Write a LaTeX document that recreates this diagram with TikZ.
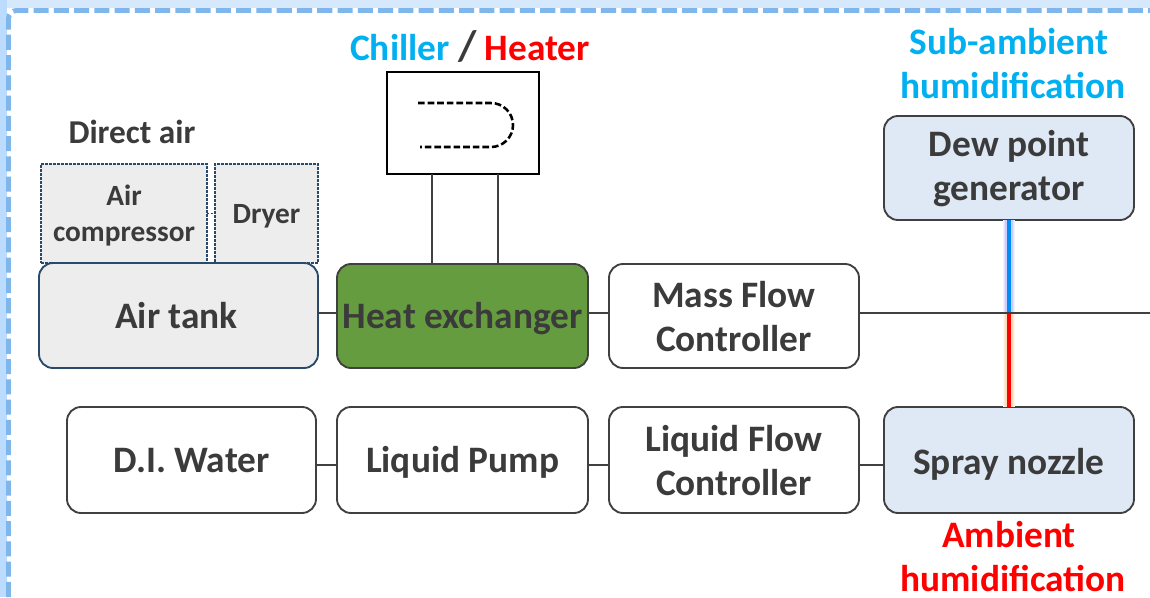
\documentclass[tikz,border=0pt]{standalone}
\usepackage{fontspec}
\setmainfont{Carlito}
\definecolor{txt}{HTML}{3B3B3B}
\definecolor{edge}{HTML}{404040}
\definecolor{navy}{HTML}{2A4A6B}
\definecolor{grayfill}{HTML}{EDEDED}
\definecolor{bluefill}{HTML}{DEE9F5}
\definecolor{greenfill}{HTML}{659C3F}
\definecolor{cyanT}{HTML}{00B0F0}
\definecolor{frame}{HTML}{7FB6EC}
\definecolor{bandtop}{HTML}{D6E9FC}
\definecolor{bandleft}{HTML}{BBDCFF}
\newcommand{\bl}[2]{\raisebox{-#1}[0pt][0pt]{#2}}
\tikzset{
 x=0.75pt,y=-0.75pt,
 sz/.style 2 args={minimum width=#1*0.75pt,minimum height=#2*0.75pt},
 box/.style={draw=edge,line width=1.4pt,rounded corners=10.5pt,text=txt,align=center,inner sep=0pt,outer sep=0pt,anchor=north west,font=\fontsize{28}{33}\selectfont\bfseries},
 dotbox/.style={draw=navy,line width=0.85pt,dash pattern=on 2pt off 1pt,fill=grayfill,text=txt,align=center,inner sep=0pt,outer sep=0pt,anchor=north west,font=\fontsize{22}{26.3}\selectfont\bfseries},
 conn/.style={draw=edge,line width=2pt},
 lab/.style={inner sep=0pt,align=center,font=\fontsize{28}{33}\selectfont\bfseries},
}
\begin{document}
\begin{tikzpicture}
\useasboundingbox (0,0) rectangle (1150,597);
\fill[white] (0,0) rectangle (1150,597);
\fill[bandtop] (0,0) rectangle (1150,8);
\fill[bandleft] (0,0) rectangle (7,597);
\draw[frame,line width=3.7pt,dash pattern=on 11.3pt off 3.9pt,rounded corners=6pt] (8.5,597) -- (8.5,10.5) -- (1150,10.5);

% nodes
\node[dotbox,sz={166}{99}] (comp) at (41,164) {\rule{0pt}{18.5pt}Air\\compressor};
\node[dotbox,sz={103}{99}] (dryer) at (215,164) {\bl{7.4pt}{Dryer}};
\node[box,draw=navy,fill=grayfill,sz={279}{105}] (tank) at (39,263) {\hspace*{-3pt}\bl{9.4pt}{Air tank}};
\node[box,fill=greenfill,sz={251}{104}] (hx) at (337,264) {\bl{9.2pt}{Heat exchanger}};
\node[box,fill=white,sz={250}{104}] (mfc) at (609,264) {\rule{0pt}{21pt}Mass Flow\\Controller};
\node[box,fill=bluefill,sz={250}{104}] (dew) at (884,116) {\rule{0pt}{21pt}Dew point\\generator};
\node[box,fill=white,sz={249}{106}] (di) at (67,407) {\bl{9.6pt}{D.I. Water}};
\node[box,fill=white,sz={251}{106}] (pump) at (337,407) {\bl{9.6pt}{Liquid Pump}};
\node[box,fill=white,sz={250}{106}] (lfc) at (609,407) {\rule{0pt}{21pt}Liquid Flow\\Controller};
\node[box,fill=bluefill,sz={250}{106}] (spray) at (884,407) {\bl{10.6pt}{Spray nozzle}};
\node[draw=black,line width=2.1pt,fill=white,inner sep=0pt,outer sep=0pt,anchor=north west,sz={152}{102}] (chiller) at (387,72) {};

% free ends / junctions
\coordinate (out) at (1150,313);
\coordinate (junc) at (1009,313);
\coordinate (coilA) at (418,103);
\coordinate (coilB) at (420,147);
\coordinate (hxA) at (432,264);
\coordinate (hxB) at (498,264);

% connectors
\draw[conn] (tank.east |- out) -- (hx.west |- out);
\draw[conn] (hx.east |- out) -- (mfc.west |- out);
\coordinate (wl) at (0,465);
\draw[conn] (di.east |- wl) -- (pump.west |- wl);
\draw[conn] (pump.east |- wl) -- (lfc.west |- wl);
\draw[conn] (lfc.east |- wl) -- (spray.west |- wl);
\draw[conn] (chiller.south -| hxA) -- (hxA);
\draw[conn] (chiller.south -| hxB) -- (hxB);
\draw[navy,line width=0.75pt,dash pattern=on 1.5pt off 1.5pt] (comp.east) -- (dryer.west);

% humidification lines with glow
\draw[line width=9.5pt,color=blue!5] (dew.south -| junc) -- (junc);
\draw[line width=8pt,color=blue!11] (dew.south -| junc) -- (junc);
\draw[line width=6pt,color=blue!20] (dew.south -| junc) -- (junc);
\draw[line width=9.5pt,color=orange!7] (junc) -- (spray.north -| junc);
\draw[line width=8pt,color=orange!14] (junc) -- (spray.north -| junc);
\draw[line width=6pt,color=orange!28] (junc) -- (spray.north -| junc);
\draw[line width=2.4pt,color=cyanT!80!blue!100] (dew.south -| junc) -- (junc);
\draw[line width=2.4pt,color=red] (junc) -- (spray.north -| junc);
\draw[conn] (mfc.east |- out) -- (out);

% coil
\draw[black,line width=1.9pt,dash pattern=on 5pt off 2.2pt] (coilA) -- (491,103) arc[start angle=90,end angle=-90,radius=16.5pt] -- (coilB);

% labels
\node[lab,text=txt,font=\fontsize{25}{27}\selectfont\bfseries] (direct) at (132,132) {Direct air};
\node[lab] (chil) at (470,48) {\textcolor{cyanT}{Chiller} \textcolor{txt}{\smash{\fontsize{32}{32}\selectfont /}} \textcolor{red}{Heater}};
\node[lab,text=cyanT] (sub) at (1013,63.5) {Sub-ambient\hspace*{6pt}\\humidification};
\node[lab,text=red] (amb) at (1013,557) {Ambient\hspace*{6pt}\\humidification};
\end{tikzpicture}
\end{document}
